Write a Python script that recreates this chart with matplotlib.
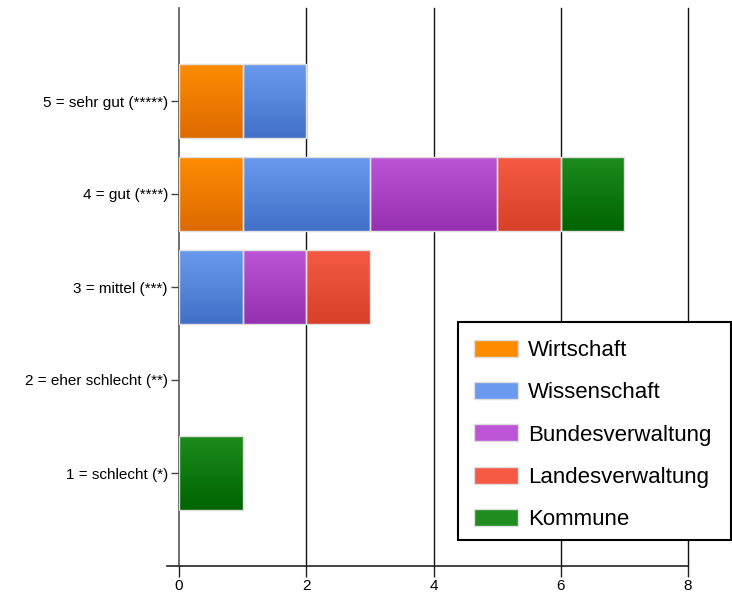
import numpy as np
import matplotlib
matplotlib.use("Agg")
import matplotlib.pyplot as plt
from matplotlib.patches import Patch, Rectangle
from matplotlib.colors import LinearSegmentedColormap
from matplotlib.lines import Line2D

categories = ["1 = schlecht (*)", "2 = eher schlecht (**)", "3 = mittel (***)",
              "4 = gut (****)", "5 = sehr gut (*****)"]
series = ["Wirtschaft", "Wissenschaft", "Bundesverwaltung", "Landesverwaltung", "Kommune"]
wirtschaft = [0, 0, 0, 1, 1]
wissenschaft = [0, 0, 1, 2, 1]
bundesverwaltung = [0, 0, 1, 2, 0]
landesverwaltung = [0, 0, 1, 1, 0]
kommune = [1, 0, 0, 1, 0]
values = [wirtschaft, wissenschaft, bundesverwaltung, landesverwaltung, kommune]
x_ticks = [0, 2, 4, 6, 8]

# (top colour, bottom colour)
grad = [("#ff8c00", "#dc6a00"),
        ("#6a9af0", "#4270c8"),
        ("#bc56d6", "#9530b0"),
        ("#f65a45", "#d8402a"),
        ("#1e8c1e", "#006400")]

plt.rcParams['font.family'] = ['Liberation Sans', 'DejaVu Sans']

fig = plt.figure(figsize=(7.32, 5.92), dpi=100)
ax = fig.add_axes([179/732, 1-566/592, 509/732, 558/592])

y = np.arange(1, len(categories)+1)
left = np.zeros(len(categories))
for vals, (ctop, cbot), name in zip(values, grad, series):
    vals = np.array(vals, dtype=float)
    cmap = LinearSegmentedColormap.from_list(name, [cbot, ctop])
    for yi, v, l in zip(y, vals, left):
        if v <= 0:
            continue
        b = ax.barh([yi], [v], left=[l], height=0.8, color=ctop,
                    edgecolor="none", zorder=3)[0]
        x0, y0 = b.get_x(), b.get_y()
        w, h = b.get_width(), b.get_height()
        g = np.linspace(0, 1, 100).reshape(-1, 1)
        im = ax.imshow(g, cmap=cmap, aspect='auto', origin='lower',
                       extent=[x0, x0+w, y0, y0+h], zorder=3.5,
                       interpolation='bilinear')
        im.set_clip_path(b)
        ax.add_patch(Rectangle((x0, y0), w, h, fill=False,
                     edgecolor="#e0e0e0", linewidth=1.0, zorder=4))
    left += vals

ax.set_xlim(0, 8)
ax.set_ylim(0, 6)
ax.set_aspect('auto')
ax.set_yticks(y)
ax.set_yticklabels(categories, fontsize=11)
ax.set_xticks(x_ticks)
ax.set_xticklabels([str(t) for t in x_ticks], fontsize=11)
ax.tick_params(axis='y', length=6, width=1, color="#444444", pad=2)
ax.tick_params(axis='x', length=8, width=1, color="#222222", pad=1)

for s in ["top", "right"]:
    ax.spines[s].set_visible(False)
ax.spines["left"].set_color("#555555")
ax.spines["left"].set_linewidth(1.2)
ax.spines["bottom"].set_visible(False)
ax.add_line(Line2D([-12/509, 1.0], [0, 0], transform=ax.transAxes,
                   color="#222222", linewidth=1.2, clip_on=False, zorder=5))

for t in x_ticks[1:]:
    ax.axvline(t, color="#111111", linewidth=1.0, zorder=0, clip_on=False)

# legend box drawn separately for exact size
box = Rectangle((458/732, 1-540/592), 273/732, 218/592, transform=fig.transFigure,
                facecolor="white", edgecolor="black", linewidth=1.5, zorder=4)
fig.patches.append(box)

handles = [Patch(facecolor=c[0], edgecolor="#dddddd", label=n) for c, n in zip(grad, series)]
leg = fig.legend(handles=handles, loc='upper left',
                 bbox_to_anchor=(456/732, 1-322/592), fontsize=16,
                 frameon=False,
                 handlelength=2.0, handleheight=0.8, labelspacing=0.95,
                 borderpad=0.8, handletextpad=0.45, borderaxespad=0)
leg.set_zorder(6)

fig.savefig("out.png", dpi=100)
